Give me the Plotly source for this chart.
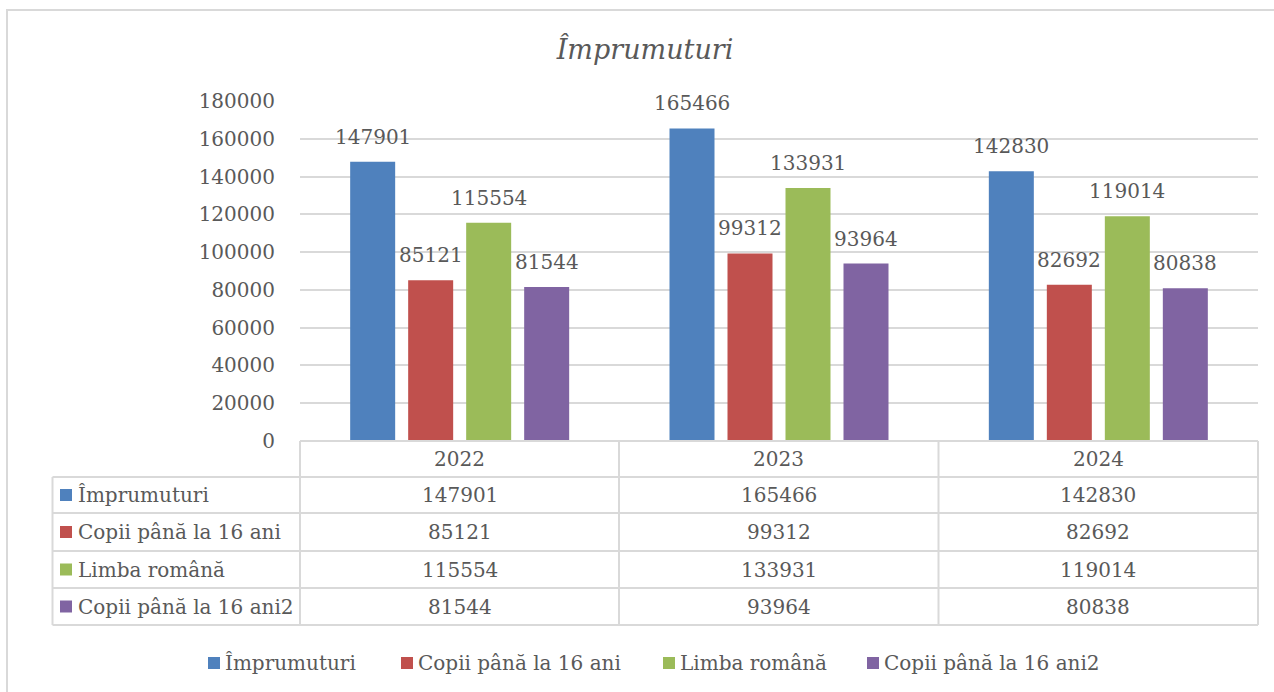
import plotly.graph_objects as go

# ---------------- data ----------------
years = ["2022", "2023", "2024"]
series_names = ["Împrumuturi", "Copii până la 16 ani", "Limba română", "Copii până la 16 ani2"]
imprumuturi = [147901, 165466, 142830]
copii_16 = [85121, 99312, 82692]
limba_romana = [115554, 133931, 119014]
copii_16_2 = [81544, 93964, 80838]
y_tick_values = [0, 20000, 40000, 60000, 80000, 100000, 120000, 140000, 160000, 180000]
title_text = "Împrumuturi"

series_values = [imprumuturi, copii_16, limba_romana, copii_16_2]
colors = ["#4F81BD", "#C0504D", "#9BBB59", "#8064A2"]

# ---------------- geometry (pixels) ----------------
W, H = 1274, 692
L, R, T, B = 300, 1258, 101, 441
FONT = "DejaVu Serif"
TXT = "#595959"
GRID = "#d9d9d9"


def px(x):
    return (x - L) / (R - L)


def py(y):
    return (B - y) / (B - T)


cat_w = (R - L) / 3.0
bar_w = 45 / cat_w
slot = 58 / cat_w

fig = go.Figure()
x_idx = list(range(len(years)))
for k, (name, vals, col) in enumerate(zip(series_names, series_values, colors)):
    off = (k - 1.5) * slot
    fig.add_trace(go.Bar(
        x=x_idx, y=vals, name=name,
        marker=dict(color=col, line=dict(width=0)),
        width=bar_w, offset=off - bar_w / 2,
        showlegend=False, hoverinfo="x+y+name",
    ))

annotations = []
# data labels
for k, vals in enumerate(series_values):
    off = (k - 1.5) * slot
    for i, v in enumerate(vals):
        annotations.append(dict(
            x=i + off, y=v, xref="x", yref="y", text=str(v), showarrow=False,
            xanchor="center", yanchor="bottom", yshift=11,
            font=dict(family=FONT, size=20, color=TXT),
        ))

shapes = []

# outer border
shapes.append(dict(type="rect", xref="paper", yref="paper",
                   x0=px(7), x1=px(1290), y0=py(10), y1=py(710),
                   line=dict(color=GRID, width=2), fillcolor="rgba(0,0,0,0)", layer="below"))


def hline(y, x0, x1):
    shapes.append(dict(type="line", xref="paper", yref="paper",
                       x0=px(x0), x1=px(x1), y0=py(y), y1=py(y),
                       line=dict(color=GRID, width=2)))


def vline(x, y0, y1):
    shapes.append(dict(type="line", xref="paper", yref="paper",
                       x0=px(x), x1=px(x), y0=py(y0), y1=py(y1),
                       line=dict(color=GRID, width=2)))


col_edges = [52.5, 300, 619, 938.5, 1258]
row_edges = [441, 477, 513, 551, 588, 625]

hline(row_edges[0], col_edges[1], col_edges[-1])
for y in row_edges[1:]:
    hline(y, col_edges[0], col_edges[-1])
vline(col_edges[0], row_edges[1], row_edges[-1])
for x in col_edges[1:]:
    vline(x, row_edges[0], row_edges[-1])

# header row (years)
for j, yr in enumerate(years):
    cx = (col_edges[j + 1] + col_edges[j + 2]) / 2
    cy = (row_edges[0] + row_edges[1]) / 2
    annotations.append(dict(x=px(cx), y=py(cy), xref="paper", yref="paper", text=yr,
                            showarrow=False, xanchor="center", yanchor="middle",
                            font=dict(family=FONT, size=20, color=TXT)))

# table body
for r, (name, vals, col) in enumerate(zip(series_names, series_values, colors)):
    cy = (row_edges[r + 1] + row_edges[r + 2]) / 2
    shapes.append(dict(type="rect", xref="paper", yref="paper",
                       x0=px(60), x1=px(72), y0=py(cy - 6), y1=py(cy + 6),
                       fillcolor=col, line=dict(width=0)))
    annotations.append(dict(x=px(76), y=py(cy), xref="paper", yref="paper", text=name,
                            showarrow=False, xanchor="left", yanchor="middle",
                            font=dict(family=FONT, size=20, color=TXT)))
    for j, v in enumerate(vals):
        cx = (col_edges[j + 1] + col_edges[j + 2]) / 2
        annotations.append(dict(x=px(cx), y=py(cy), xref="paper", yref="paper", text=str(v),
                                showarrow=False, xanchor="center", yanchor="middle",
                                font=dict(family=FONT, size=20, color=TXT)))

# legend (drawn)
legend_sq_x = [208, 401, 663, 867]
legend_cy = 663
for name, col, sx in zip(series_names, colors, legend_sq_x):
    shapes.append(dict(type="rect", xref="paper", yref="paper",
                       x0=px(sx), x1=px(sx + 12), y0=py(legend_cy - 6), y1=py(legend_cy + 6),
                       fillcolor=col, line=dict(width=0)))
    annotations.append(dict(x=px(sx + 15), y=py(legend_cy), xref="paper", yref="paper", text=name,
                            showarrow=False, xanchor="left", yanchor="middle",
                            font=dict(family=FONT, size=20, color=TXT)))

fig.update_layout(
    width=W, height=H,
    margin=dict(l=L, r=W - R, t=T, b=H - B, pad=0),
    paper_bgcolor="white", plot_bgcolor="white",
    barmode="overlay",
    title=dict(text="<i>" + title_text + "</i>", x=645 / W, xref="container", xanchor="center",
               y=1 - 50 / H, yref="container", yanchor="middle",
               font=dict(family=FONT, size=27, color=TXT)),
    xaxis=dict(range=[-0.5, 2.5], showticklabels=False, showgrid=False, zeroline=False,
               showline=False, ticks=""),
    yaxis=dict(range=[0, 180000], tickvals=y_tick_values, tickformat="d",
               showgrid=True, gridcolor=GRID, gridwidth=1.5, zeroline=False, showline=False,
               ticks="outside", ticklen=20, tickcolor="rgba(0,0,0,0)",
               tickfont=dict(family=FONT, size=20, color=TXT)),
    shapes=shapes,
    annotations=annotations,
)

fig.write_html(
    "out.html",
    config={"displayModeBar": False},
    post_script="document.body.style.margin='0';document.body.style.padding='0';document.body.style.overflow='hidden';",
)
